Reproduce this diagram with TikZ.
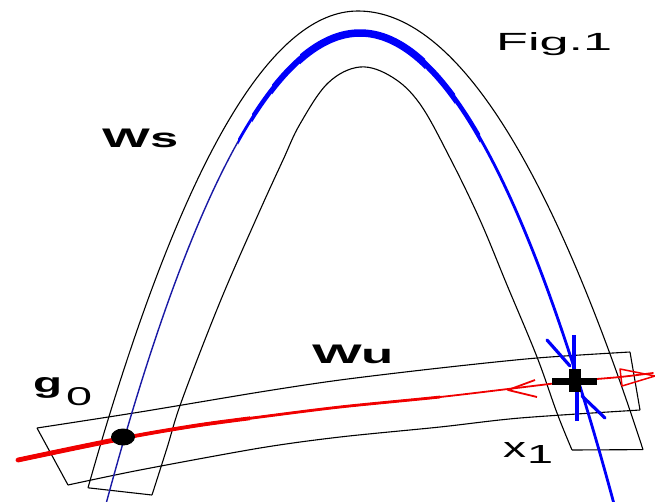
\documentclass[tikz,border=0pt]{standalone}
\usepackage{fontspec}
\setmainfont{Liberation Sans}
\usepackage{graphicx}
\definecolor{wsblue}{RGB}{0,0,250}
\definecolor{navyblue}{RGB}{25,25,165}
\definecolor{wured}{RGB}{240,0,0}
\begin{document}
\begin{tikzpicture}[x=1pt,y=-1pt,line join=round,
  archline/.style={black,line width=1.1pt},
  boxline/.style={black,line width=1.1pt},
  lab/.style={inner sep=0pt,anchor=base west,font=\fontsize{25}{25}\selectfont},
  bluecurve/.style={line cap=round},
  redcurve/.style={wured,line cap=round}]
\fill[white] (0,0) rectangle (655,501);
\useasboundingbox (0,0) rectangle (655,501);

% named points
\coordinate (g0) at (123,437);
\coordinate (x1) at (575,381);

% ---- Ws strip (arch) ----
\coordinate (wsOL) at (88,487.8);
\coordinate (wsIL) at (152,495);
\coordinate (wsOR) at (643,449.6);
\coordinate (wsIR) at (572,450);
\draw[archline] plot[domain=88:358,samples=70] (\x,{11+65.4*((\x-358)/100)^2})
  -- plot[domain=358:643,samples=70] (\x,{11+54*((\x-358)/100)^2});
\draw[archline] plot[smooth,tension=0.6] coordinates {(152,495) (167,448) (182,400) (220,302) (257,217) (283,160) (300,124) (328,83) (360,67) (392,77) (420,104) (450,158) (480,220) (507,285) (537,357) (557,413) (572,450)};
\draw[archline] (wsOL) -- (wsIL);
\draw[archline] (wsOR) -- (wsIR);

% ---- Wu strip ----
\coordinate (wuTL) at (37,428);
\coordinate (wuBL) at (68,485);
\coordinate (wuTR) at (630,352);
\coordinate (wuBR) at (640,410);
\draw[boxline] plot[smooth] coordinates {(37,428) (140,412) (260,392) (340,380) (440,368) (537,358) (630,352)};
\draw[boxline] plot[smooth] coordinates {(68,485) (140,470) (260,448) (340,437) (440,427) (520,418) (640,410)};
\draw[boxline] (wuTL) -- (wuBL);
\draw[boxline] (wuTR) -- (wuBR);

% ---- blue stable manifold ----
\draw[bluecurve,navyblue,line width=1.4pt] plot[domain=106:614,samples=120] (\x,{33+73*((\x-360)/100)^2});
\begin{scope}
\clip (238,0) rectangle (655,501);
\draw[bluecurve,wsblue,line width=2.8pt] plot[domain=230:614,samples=120] (\x,{33+73*((\x-360)/100)^2});
\end{scope}
\begin{scope}
\clip (252,0) rectangle (480,501);
\draw[bluecurve,wsblue,line width=4.5pt] plot[domain=240:490,samples=100] (\x,{33+73*((\x-360)/100)^2});
\end{scope}
\begin{scope}
\clip (272,0) rectangle (455,501);
\draw[bluecurve,wsblue,line width=6pt] plot[domain=260:470,samples=100] (\x,{33+73*((\x-360)/100)^2});
\end{scope}
\begin{scope}
\clip (300,0) rectangle (425,501);
\draw[bluecurve,wsblue,line width=7.5pt] plot[domain=290:440,samples=100] (\x,{33+73*((\x-360)/100)^2});
\end{scope}

% ---- red unstable manifold ----
\draw[redcurve,line width=1.8pt] plot[smooth] coordinates {(18,460) (80,447) (140,435) (200,425) (260,417) (340,407) (440,397) (508,389) (575,381) (620,377) (653,373)};
\begin{scope}
\clip (0,0) rectangle (440,501);
\draw[redcurve,line width=2.8pt] plot[smooth] coordinates {(18,460) (80,447) (140,435) (200,425) (260,417) (340,407) (440,397) (508,389) (575,381) (620,377) (653,373)};
\end{scope}
\begin{scope}
\clip (0,0) rectangle (250,501);
\draw[redcurve,line width=3.8pt] plot[smooth] coordinates {(18,460) (80,447) (140,435) (200,425) (260,417) (340,407) (440,397) (508,389) (575,381) (620,377) (653,373)};
\end{scope}
\begin{scope}
\clip (0,0) rectangle (130,501);
\draw[redcurve,line width=4.8pt] plot[smooth] coordinates {(18,460) (80,447) (140,435) (200,425) (260,417) (340,407) (440,397) (508,389) (575,381) (620,377) (653,373)};
\end{scope}

% red arrowheads
\coordinate (ra) at (508,390);
\coordinate (raA) at (535,380);
\coordinate (raB) at (537,397);
\draw[wured,line width=1.8pt] (raA) -- (ra) -- (raB);
\coordinate (rb) at (655,376);
\coordinate (rbA) at (620,369);
\coordinate (rbB) at (622,386);
\draw[wured,line width=1.5pt] (rbA) -- (rb) -- (rbB) -- cycle;

% blue arrowheads at x1
\coordinate (bu1) at (547,340);
\coordinate (bu2) at (570,366);
\coordinate (bu3) at (574,335);
\coordinate (bu4) at (574,370);
\coordinate (bl1) at (605,418);
\coordinate (bl2) at (582,396);
\coordinate (bl3) at (577,421);
\coordinate (bl4) at (577,392);
\draw[wsblue,line width=3.2pt,line cap=round] (bu1) -- (bu2);
\draw[wsblue,line width=3.5pt] (bu3) -- (bu4);
\draw[wsblue,line width=3.2pt,line cap=round] (bl1) -- (bl2);
\draw[wsblue,line width=3.5pt] (bl3) -- (bl4);

% black plus at x1
\fill[black] (569,369) rectangle (581,392);
\fill[black] (552,378) rectangle (597,385);

% black dot at g0
\fill[black] (g0) ellipse [x radius=12, y radius=8.5];

% ---- labels ----
\node[lab] (fig) at (496,50) {\resizebox{116pt}{18pt}{Fig.1}};
\node[lab] (ws) at (102,147) {\resizebox{76pt}{18.5pt}{\bfseries Ws}};
\node[lab] (wu) at (312,363) {\resizebox{81pt}{18.5pt}{\bfseries Wu}};
\node[lab] (glab) at (33,392) {\resizebox{29pt}{15pt}{\bfseries g}};
\node[lab] (gsub) at (66,405) {\resizebox{26pt}{18pt}{0}};
\node[lab] (xlab) at (503,457) {\resizebox{23pt}{15pt}{x}};
\node[lab] (xsub) at (527,463) {\resizebox{26pt}{18pt}{1}};
\end{tikzpicture}
\end{document}
